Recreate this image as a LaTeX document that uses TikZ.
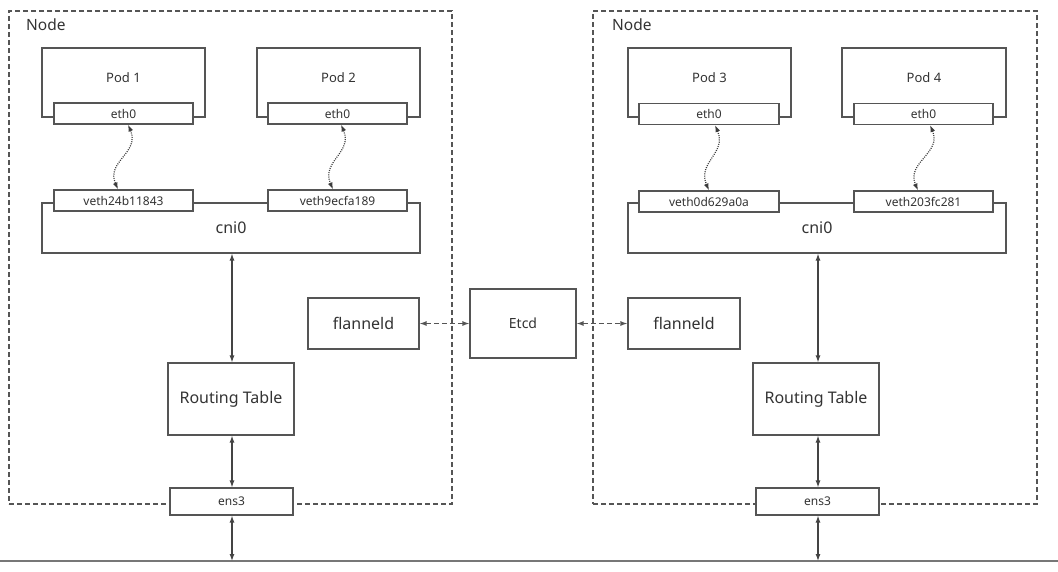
\documentclass[tikz,border=0pt]{standalone}
\usepackage{fontspec}
\setmainfont{Noto Sans}
\usetikzlibrary{arrows.meta,calc}
\definecolor{ln}{HTML}{555555}
\definecolor{tx}{HTML}{333333}
\definecolor{bus}{HTML}{777777}
\tikzset{
  box/.style={draw=ln, line width=1.1pt, fill=white, inner sep=0pt, text=tx, anchor=center},
  nodebox/.style={draw=ln, line width=1.1pt, dash pattern=on 5pt off 3pt},
  smallf/.style={font=\fontsize{12}{14}\selectfont},
  podf/.style={font=\fontsize{13}{15}\selectfont},
  bigf/.style={font=\fontsize{16}{19}\selectfont},
  etcdf/.style={font=\fontsize{14}{16}\selectfont},
  biarr/.style={{Latex[length=7pt,width=5pt]}-{Latex[length=7pt,width=5pt]}, draw=ln!80!black, line width=1.2pt},
  dasharr/.style={{Latex[length=7pt,width=5pt]}-{Latex[length=7pt,width=5pt]}, draw=ln, line width=1.2pt, dash pattern=on 5pt off 3pt},
  dotarr/.style={{Latex[length=7pt,width=5pt]}-{Latex[length=7pt,width=5pt]}, draw=ln!70!black, line width=1.2pt, dash pattern=on 1pt off 1.2pt},
}
\begin{document}
\begin{tikzpicture}[x=1pt,y=-1pt]
\useasboundingbox (0,0) rectangle (1058,571);

% bus
\coordinate (busL) at (0,561);
\coordinate (busR) at (1058,561);
\draw[bus, line width=1.2pt] (busL) -- (busR);

% ---------- left node ----------
\node[nodebox, minimum width=443pt, minimum height=493pt] (nodeL) at (230.5,257.5) {};
\node[text=tx, anchor=west, font=\fontsize{15.5}{18}\selectfont, inner sep=0pt] (nodeLt) at (26,25) {Node};

\node[box, minimum width=163pt, minimum height=69pt, label={[podf, text=tx, yshift=4.5pt]center:Pod 1}] (pod1) at (123.5,82.5) {};
\node[box, smallf, minimum width=139pt, minimum height=21pt] (e1) at (123.5,113.5) {eth0};
\node[box, minimum width=163pt, minimum height=69pt, label={[podf, text=tx, yshift=4.5pt]center:Pod 2}] (pod2) at (338.5,82.5) {};
\node[box, smallf, minimum width=139pt, minimum height=21pt] (e2) at (337.5,113.5) {eth0};

\node[box, bigf, minimum width=378pt, minimum height=50pt] (cniL) at (231,228) {cni0};
\node[box, smallf, minimum width=139pt, minimum height=21pt] (v1) at (123.5,200.5) {veth24b11843};
\node[box, smallf, minimum width=139pt, minimum height=21pt] (v2) at (337.5,200.5) {veth9ecfa189};

\node[box, bigf, minimum width=126pt, minimum height=72pt] (rtL) at (231,399) {Routing Table};
\node[box, smallf, minimum width=123pt, minimum height=27pt] (ensL) at (231.5,501.5) {ens3};
\node[box, bigf, minimum width=111pt, minimum height=51pt] (flL) at (363.5,323.5) {flanneld};

% ---------- etcd ----------
\node[box, etcdf, minimum width=106pt, minimum height=69pt] (etcd) at (523,323.5) {Etcd};

% ---------- right node ----------
\node[nodebox, minimum width=444pt, minimum height=493pt] (nodeR) at (815,257.5) {};
\node[text=tx, anchor=west, font=\fontsize{15.5}{18}\selectfont, inner sep=0pt] (nodeRt) at (612,25) {Node};

\node[box, minimum width=163pt, minimum height=69pt, label={[podf, text=tx, yshift=4.5pt]center:Pod 3}] (pod3) at (709.5,82.5) {};
\node[box, smallf, minimum width=140pt, minimum height=21pt] (e3) at (709,114) {eth0};
\node[box, minimum width=164pt, minimum height=69pt, label={[podf, text=tx, yshift=4.5pt]center:Pod 4}] (pod4) at (924,82.5) {};
\node[box, smallf, minimum width=139pt, minimum height=21pt] (e4) at (923.5,114) {eth0};

\node[box, bigf, minimum width=378pt, minimum height=50pt] (cniR) at (817,228) {cni0};
\node[box, smallf, minimum width=140pt, minimum height=21pt] (v3) at (709,201.5) {veth0d629a0a};
\node[box, smallf, minimum width=139pt, minimum height=21pt] (v4) at (923.5,201.5) {veth203fc281};

\node[box, bigf, minimum width=126pt, minimum height=72pt] (rtR) at (816,399) {Routing Table};
\node[box, smallf, minimum width=123pt, minimum height=27pt] (ensR) at (817.5,501.5) {ens3};
\node[box, bigf, minimum width=112pt, minimum height=51pt] (flR) at (684,323.5) {flanneld};

% ---------- connectors ----------
\draw[dotarr] ([xshift=4.5pt]e1.south) .. controls +(12,28) and +(-12,-28) .. ([xshift=-5.5pt]v1.north);
\draw[dotarr] ([xshift=3.5pt]e2.south) .. controls +(12,28) and +(-12,-28) .. ([xshift=-4.5pt]v2.north);
\draw[dotarr] ([xshift=6pt]e3.south) .. controls +(12,28) and +(-12,-28) .. ([xshift=0pt]v3.north);
\draw[dotarr] ([xshift=6.5pt]e4.south) .. controls +(12,28) and +(-12,-28) .. ([xshift=-5.5pt]v4.north);

\draw[biarr] ([xshift=1pt]rtL.north) -- ([xshift=1pt]rtL.north |- cniL.south);
\draw[biarr] ([xshift=1pt]rtL.south) -- ([xshift=1pt]rtL.south |- ensL.north);
\draw[biarr] ([xshift=0.5pt]ensL.south) -- ([xshift=0.5pt]ensL.south |- busL);

\draw[biarr] ([xshift=2pt]rtR.north) -- ([xshift=2pt]rtR.north |- cniR.south);
\draw[biarr] ([xshift=2pt]rtR.south) -- ([xshift=2pt]rtR.south |- ensR.north);
\draw[biarr] ([xshift=0.5pt]ensR.south) -- ([xshift=0.5pt]ensR.south |- busL);

\draw[dasharr] (flL.east) -- (etcd.west);
\draw[dasharr] (etcd.east) -- (flR.west);
\end{tikzpicture}
\end{document}
